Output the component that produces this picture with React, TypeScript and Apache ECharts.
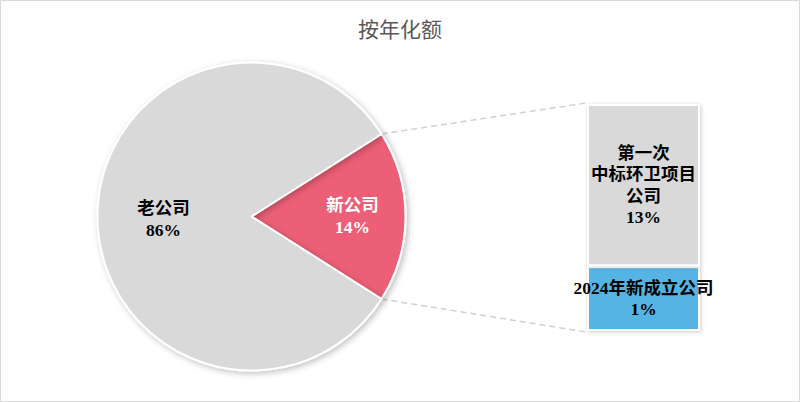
import React, { useEffect, useRef } from "react";
import * as echarts from "echarts";

// ---- data ----
const titleText = "按年化额";
const pieNames = ["新公司", "老公司"];
const pieShares = [18, 82]; // drawn slice shares
const pieLabels = ["14%", "86%"];
const pieColors = ["#EC5F76", "#D9D9D9"];

const barNames = ["2024年新成立公司", "第一次\n中标环卫项目\n公司"];
const barShares = [28.5, 71.5]; // drawn segment shares
const barLabels = ["1%", "13%"];
const barColors = ["#56B4E4", "#D9D9D9"];

// ---- layout ----
const W = 800;
const H = 402;
const PIE_CX = 251.5;
const PIE_CY = 216.5;
const PIE_R = 154;
const BAR_LEFT = 587;
const BAR_RIGHT = 700;
const BAR_TOP = 104;
const BAR_BOTTOM = 331;

const labelFont = '"Liberation Serif", "Noto Sans CJK SC", serif';

export default function App() {
  const ref = useRef<HTMLDivElement>(null);

  useEffect(() => {
    document.body.style.margin = "0";
    if (!ref.current) return;
    const chart = echarts.init(ref.current, undefined, { renderer: "svg" });

    const otherShare = pieShares[0];
    const half = ((otherShare / pieShares.reduce((a, b) => a + b, 0)) * 360) / 2;
    const rad = (half * Math.PI) / 180;
    const px = PIE_CX + PIE_R * Math.cos(rad);
    const pyTop = PIE_CY - PIE_R * Math.sin(rad);
    const pyBot = PIE_CY + PIE_R * Math.sin(rad);

    const lineStyle = { stroke: "#D0D0D0", lineWidth: 1.5, lineDash: [6, 4] };

    chart.setOption({
      animation: false,
      backgroundColor: "#ffffff",
      title: {
        text: titleText,
        left: "center",
        top: 12,
        textStyle: {
          fontFamily: '"Noto Sans CJK SC", sans-serif',
          fontSize: 21,
          fontWeight: "normal",
          color: "#595959",
        },
      },
      graphic: [
        {
          type: "rect",
          shape: { x: 0.5, y: 0.5, width: W - 1, height: H - 1 },
          style: { fill: "none", stroke: "#D9D9D9", lineWidth: 1 },
          silent: true,
        },
        {
          type: "line",
          shape: { x1: px, y1: pyTop, x2: BAR_LEFT - 1, y2: BAR_TOP - 1 },
          style: lineStyle,
          silent: true,
        },
        {
          type: "line",
          shape: { x1: px, y1: pyBot, x2: BAR_LEFT - 1, y2: BAR_BOTTOM + 1 },
          style: lineStyle,
          silent: true,
        },
      ],
      grid: {
        left: BAR_LEFT,
        right: W - BAR_RIGHT,
        top: BAR_TOP,
        bottom: H - BAR_BOTTOM,
        containLabel: false,
      },
      xAxis: { type: "category", data: ["bar"], show: false },
      yAxis: { type: "value", min: 0, max: 100, show: false },
      series: [
        {
          type: "pie",
          center: [PIE_CX, PIE_CY],
          radius: [0, PIE_R],
          startAngle: half,
          clockwise: true,
          avoidLabelOverlap: false,
          itemStyle: {
            borderColor: "#ffffff",
            borderWidth: 2,
            shadowBlur: 6,
            shadowOffsetX: 2,
            shadowOffsetY: 2,
            shadowColor: "rgba(0,0,0,0.25)",
          },
          label: {
            show: true,
            position: "inside",
            fontFamily: labelFont,
            fontSize: 17.5,
            fontWeight: "bold",
            lineHeight: 22,
            formatter: (p: any) => `${p.name}\n${pieLabels[p.dataIndex]}`,
          },
          labelLine: { show: false },
          labelLayout: (p: any) =>
            p.dataIndex === 0 ? { dx: 21, dy: -1 } : { dx: -8, dy: 2 },
          data: pieNames.map((n, i) => ({
            name: n,
            value: pieShares[i],
            itemStyle: { color: pieColors[i] },
            label: { color: i === 0 ? "#ffffff" : "#000000" },
          })),
        },
        ...barNames.map((n, i) => ({
          type: "bar",
          name: n,
          stack: "other",
          barWidth: "100%",
          data: [barShares[i]],
          itemStyle: {
            color: barColors[i],
            borderColor: "#ffffff",
            borderWidth: 2,
            shadowBlur: 4,
            shadowOffsetX: 1,
            shadowOffsetY: 1,
            shadowColor: "rgba(0,0,0,0.2)",
          },
          label: {
            show: true,
            position: "inside",
            color: "#000000",
            fontFamily: labelFont,
            fontSize: 17.5,
            fontWeight: "bold",
            lineHeight: 21.5,
            formatter: () => `${n}\n${barLabels[i]}`,
          },
        })),
      ],
    });

    return () => chart.dispose();
  }, []);

  return <div ref={ref} style={{ width: W, height: H }} />;
}
